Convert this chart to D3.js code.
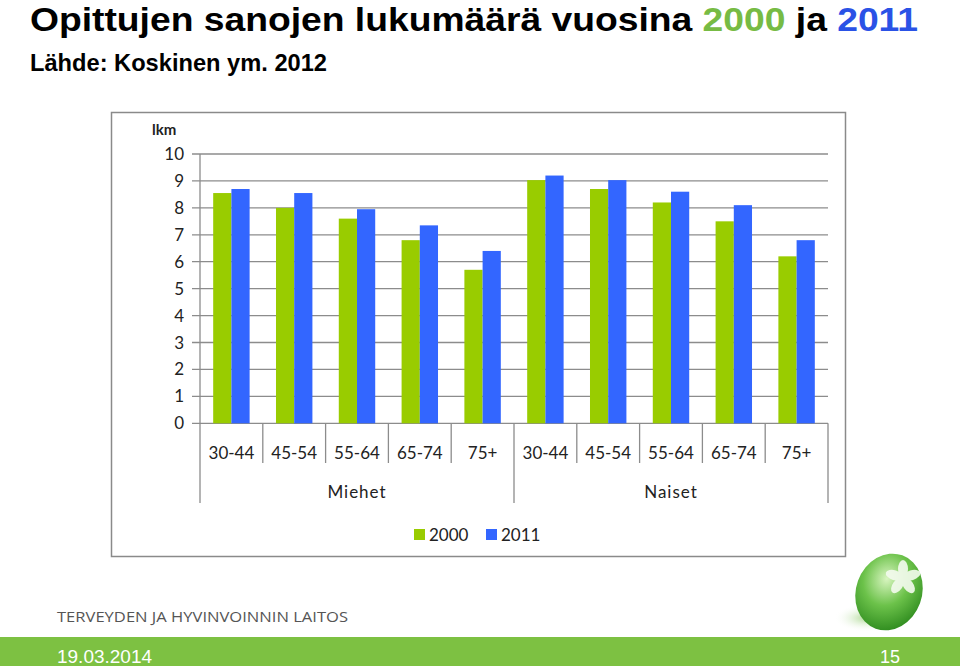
<!DOCTYPE html>
<html><head><meta charset="utf-8">
<script src="https://cdn.jsdelivr.net/npm/d3@7"></script>
<style>body{margin:0;background:#fff}svg{display:block}</style>
</head><body>
<script>
const ageGroups = ["30-44","45-54","55-64","65-74","75+"];
const genders = ["Miehet","Naiset"];
const series = ["2000","2011"];
const values2000 = [8.55, 8.0, 7.6, 6.8, 5.7, 9.03, 8.7, 8.2, 7.5, 6.2];
const values2011 = [8.7, 8.55, 7.95, 7.35, 6.4, 9.2, 9.03, 8.6, 8.1, 6.8];
const yTicks = [0,1,2,3,4,5,6,7,8,9,10];
const colors = {"2000":"#99cc00","2011":"#3366ff"};

(function(){
const W=960,H=666;
const svg=d3.select("body").append("svg").attr("width",W).attr("height",H);

// Title
const t=svg.append("text").attr("x",30).attr("y",31)
  .attr("font-family","'Liberation Sans Narrow','Liberation Sans',Arial,sans-serif")
  .attr("font-weight","bold").attr("font-size",34)
  .attr("textLength",888).attr("lengthAdjust","spacingAndGlyphs");
t.append("tspan").text("Opittujen sanojen lukumäärä vuosina ").attr("fill","#000");
t.append("tspan").text("2000").attr("fill","#77bb44");
t.append("tspan").text(" ja ").attr("fill","#000");
t.append("tspan").text("2011").attr("fill","#2a52e6");
svg.append("text").attr("x",30).attr("y",71)
  .attr("font-family","'Liberation Sans Narrow','Liberation Sans',Arial,sans-serif")
  .attr("font-weight","bold").attr("font-size",24)
  .attr("textLength",297).attr("lengthAdjust","spacingAndGlyphs")
  .text("Lähde: Koskinen ym. 2012");

// Chart frame
svg.append("rect").attr("x",111.5).attr("y",112.5).attr("width",734).attr("height",444)
  .attr("fill","#fff").attr("stroke","#8a8a8a").attr("stroke-width",1.5);

const pLeft=200,pRight=828,pTop=154,pBottom=423.3;
const cats=[];
genders.forEach(g=>ageGroups.forEach(a=>cats.push(g+"|"+a)));
const data=cats.map((c,i)=>({cat:c,age:c.split("|")[1],v2000:values2000[i],v2011:values2011[i]}));

const x=d3.scaleBand().domain(cats).range([pLeft,pRight]).padding(0);
const bw=x.bandwidth();
const xs=d3.scaleBand().domain(series).range([bw*0.21,bw*0.79]).padding(0);
const y=d3.scaleLinear().domain([0,10]).range([pBottom,pTop]);

const font="Lato,'Open Sans',sans-serif";

// gridlines
svg.append("g").selectAll("line").data(yTicks).join("line")
  .attr("x1",pLeft-8).attr("x2",pRight).attr("y1",d=>y(d)).attr("y2",d=>y(d))
  .attr("stroke","#8c8c8c").attr("stroke-width",1.3);
svg.append("g").selectAll("text").data(yTicks).join("text")
  .attr("x",184).attr("y",d=>y(d)+6).attr("text-anchor","end")
  .attr("font-family",font).attr("font-size",17).attr("fill","#222").text(d=>d);
svg.append("text").attr("x",152).attr("y",135).attr("font-family",font)
  .attr("font-weight","bold").attr("font-size",15).attr("fill","#222").text("lkm");

svg.append("line").attr("x1",pLeft).attr("x2",pLeft).attr("y1",pTop).attr("y2",pBottom)
  .attr("stroke","#8c8c8c").attr("stroke-width",1.3);

// bars
const g=svg.append("g");
data.forEach(d=>{
  series.forEach(s=>{
    const v=d["v"+s];
    g.append("rect").attr("x",x(d.cat)+xs(s)).attr("width",xs.bandwidth())
      .attr("y",y(v)).attr("height",y(0)-y(v)).attr("fill",colors[s]);
  });
});

// category separators
const bounds=d3.range(cats.length+1).map(i=>pLeft+i*bw);
svg.append("g").selectAll("line").data(bounds).join("line")
  .attr("x1",d=>d).attr("x2",d=>d).attr("y1",pBottom)
  .attr("y2",(d,i)=>(i%ageGroups.length===0)?503:463)
  .attr("stroke","#8c8c8c").attr("stroke-width",1.3);

svg.append("g").selectAll("text").data(data).join("text")
  .attr("x",d=>x(d.cat)+bw/2).attr("y",459).attr("text-anchor","middle")
  .attr("font-family",font).attr("font-size",17).attr("fill","#222").text(d=>d.age);
svg.append("g").selectAll("text").data(genders).join("text")
  .attr("x",(d,i)=>pLeft+(i+0.5)*bw*ageGroups.length).attr("y",498).attr("text-anchor","middle")
  .attr("font-family",font).attr("font-size",17).attr("letter-spacing",1).attr("fill","#222").text(d=>d);

// legend
const lg=svg.append("g");
const lx=[414,486];
series.forEach((s,i)=>{
  lg.append("rect").attr("x",lx[i]).attr("y",529).attr("width",11).attr("height",11).attr("fill",colors[s]);
  lg.append("text").attr("x",lx[i]+15).attr("y",541).attr("font-family",font)
    .attr("font-size",17).attr("fill","#222").text(s);
});

// footer
svg.append("text").attr("x",57).attr("y",622)
  .attr("font-family","'Open Sans',sans-serif").attr("font-size",15).attr("fill","#555")
  .attr("textLength",291).attr("lengthAdjust","spacingAndGlyphs")
  .text("TERVEYDEN JA HYVINVOINNIN LAITOS");
svg.append("rect").attr("x",0).attr("y",637).attr("width",W).attr("height",29).attr("fill","#7dc142");
svg.append("text").attr("x",57).attr("y",663).attr("font-family","'Liberation Sans Narrow','Liberation Sans',sans-serif")
  .attr("font-size",19).attr("fill","#fff").attr("textLength",95).attr("lengthAdjust","spacingAndGlyphs").text("19.03.2014");
svg.append("text").attr("x",880).attr("y",663).attr("font-family","'Liberation Sans Narrow','Liberation Sans',sans-serif")
  .attr("font-size",19).attr("fill","#fff").attr("textLength",20).attr("lengthAdjust","spacingAndGlyphs").text("15");

// logo sphere
const defs=svg.append("defs");
const rg=defs.append("radialGradient").attr("id","sph").attr("cx","0.4").attr("cy","0.35").attr("r","0.7");
rg.append("stop").attr("offset","0").attr("stop-color","#d8f5c0");
rg.append("stop").attr("offset","0.5").attr("stop-color","#6cc24a");
rg.append("stop").attr("offset","1").attr("stop-color","#2e8b1e");
const sg=defs.append("radialGradient").attr("id","shd").attr("cx","0.5").attr("cy","0.5").attr("r","0.5");
sg.append("stop").attr("offset","0").attr("stop-color","#9ad07a").attr("stop-opacity",0.8);
sg.append("stop").attr("offset","1").attr("stop-color","#ffffff").attr("stop-opacity",0);
svg.append("ellipse").attr("cx",866).attr("cy",618).attr("rx",32).attr("ry",14).attr("fill","url(#shd)");
svg.append("ellipse").attr("cx",0).attr("cy",0).attr("rx",33).attr("ry",39).attr("fill","url(#sph)")
  .attr("transform","translate(889,592) rotate(20)");
const petals=svg.append("g").attr("transform","translate(903,578)").attr("fill","#f4fbef").attr("opacity",0.9);
[0,72,144,216,288].forEach(a=>petals.append("ellipse").attr("cx",0).attr("cy",-9).attr("rx",5).attr("ry",9)
  .attr("transform",`rotate(${a})`));
})();
</script>
</body></html>
